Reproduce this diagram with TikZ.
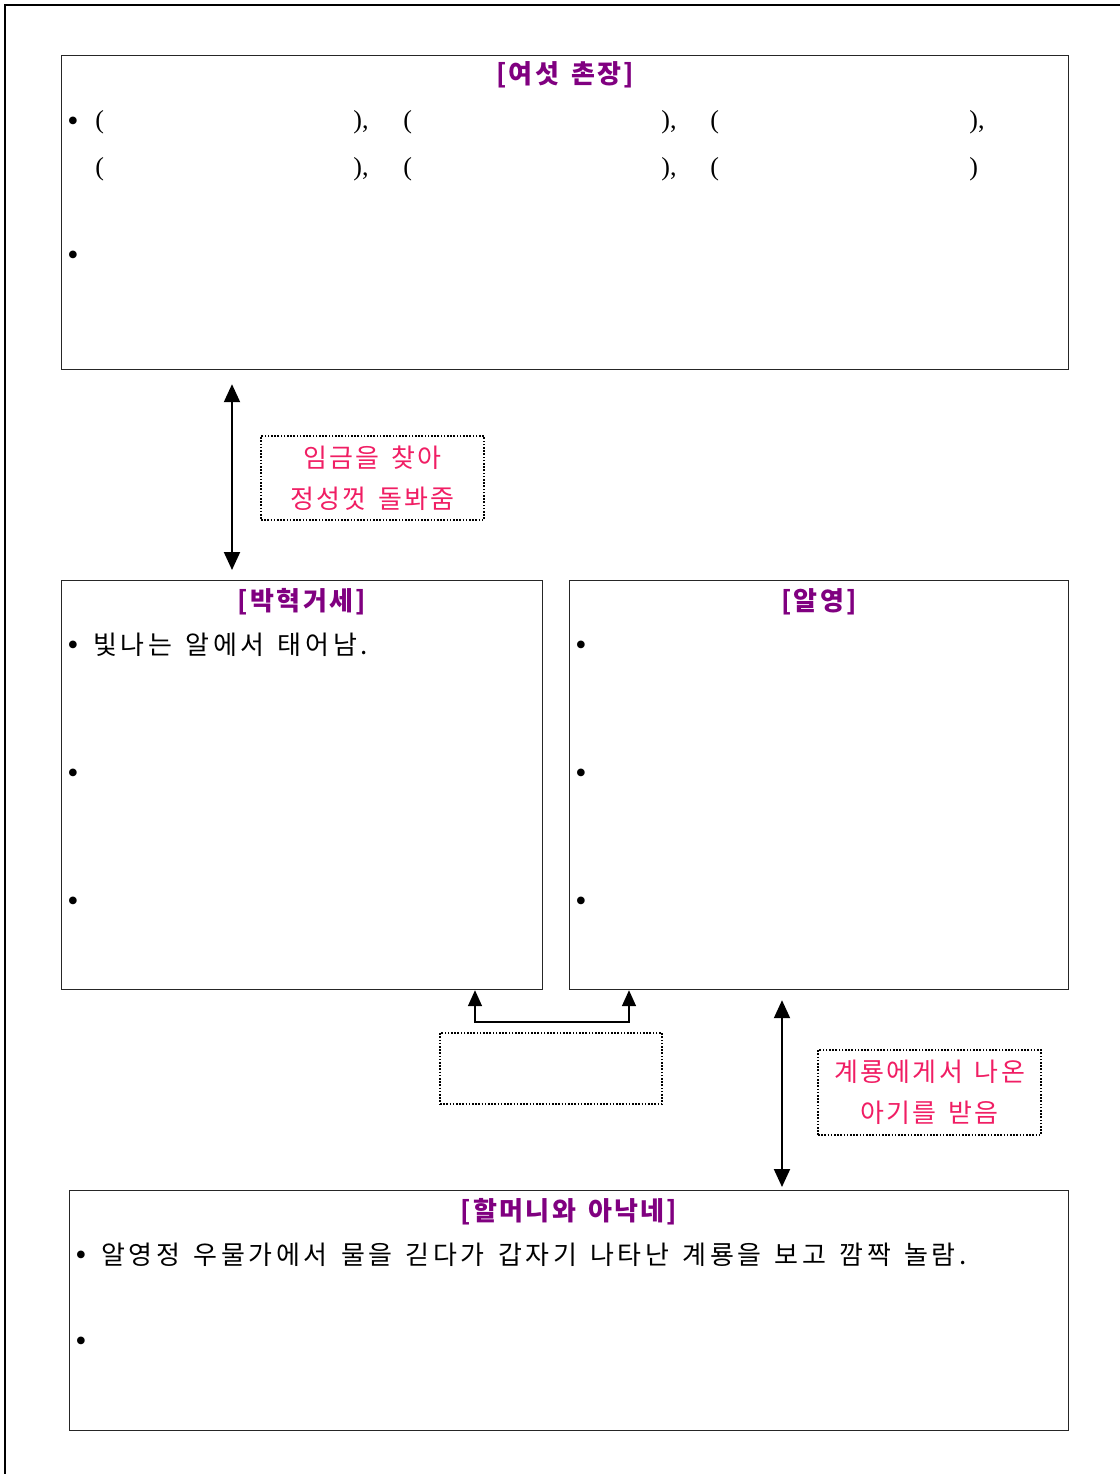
\documentclass[tikz,border=0pt]{standalone}
\usepackage{fontspec}
\setmainfont{Liberation Serif}
\newfontfamily\kr[WordSpace=1.4,LetterSpace=14]{Noto Sans CJK KR}
\newfontfamily\krl[WordSpace=1.45,LetterSpace=9]{Noto Sans CJK KR}
\usetikzlibrary{arrows.meta}
\definecolor{hdpurple}{RGB}{128,0,128}
\definecolor{lblpink}{RGB}{240,30,100}
\tikzset{
 box/.style={draw=black!85, line width=0.6pt, anchor=north west, inner sep=0pt},
 dotbox/.style={draw, line width=0.8pt, dash pattern=on 0.8pt off 0.8pt, inner sep=0pt},
 heading/.style={font=\krl\bfseries\fontsize{13}{15}\selectfont, text=hdpurple, inner sep=0pt},
 body/.style={font=\kr\fontsize{13}{15}\selectfont, inner sep=0pt, anchor=west},
 bul/.style={font=\fontsize{16}{18}\selectfont, inner sep=0pt},
 paren/.style={font=\fontsize{13}{15}\selectfont, inner sep=0pt, anchor=base west},
 lbl/.style={dotbox, font=\krl\fontsize{13}{20.5}\selectfont, text=lblpink, align=center},
 dbl/.style={{Triangle[width=8pt,length=9pt]}-{Triangle[width=8pt,length=9pt]}, line width=1pt},
 brk/.style={{Triangle[width=7pt,length=8pt]}-{Triangle[width=7pt,length=8pt]}, line width=0.8pt},
}
\begin{document}
\begin{tikzpicture}[x=0.5pt,y=-0.5pt]
\useasboundingbox (0,0) rectangle (1120,1474);
% page border
\coordinate (pgTL) at (5,5);
\coordinate (pgTR) at (1120,5);
\coordinate (pgBL) at (5,1474);
\draw[line width=0.6pt] (pgTR) -- (pgTL) -- (pgBL);

% boxes
\node[box, minimum width=503.5pt, minimum height=157pt] (top) at (61,55) {};
\node[box, minimum width=240.5pt, minimum height=204.5pt] (bh) at (61,580) {};
\node[box, minimum width=249.5pt, minimum height=204.5pt] (ay) at (569,580) {};
\node[box, minimum width=499.5pt, minimum height=120pt] (gm) at (69,1190) {};

% top box content
\node[heading] (h1) at (565,75) {[여섯 촌장]};
\node[bul] (t1) at (73,124) {•};
\foreach \x [count=\i] in {95,403,710} {
  \node[paren] (pa\i) at (\x,128) {(};
  \node[paren] (pc\i) at (\x,175) {(};
}
\foreach \x [count=\i] in {353,661,969} {
  \node[paren] (qa\i) at (\x,128) {),};
}
\node[paren] (qb1) at (353,175) {),};
\node[paren] (qb2) at (661,175) {),};
\node[paren] (qb3) at (969,175) {)};
\node[bul] (t2) at (73,258) {•};

% 박혁거세
\node[heading] (h2) at (302,602) {[박혁거세]};
\node[bul] (b1) at (73,648) {•};
\node[body] (b1t) at (93,645) {빛나는 알에서 태어남.};
\node[bul] (b2) at (73,776) {•};
\node[bul] (b3) at (73,904) {•};

% 알영
\node[heading] (h3) at (819,602) {[알영]};
\node[bul] (a1) at (581,648) {•};
\node[bul] (a2) at (581,776) {•};
\node[bul] (a3) at (581,904) {•};

% 할머니와 아낙네
\node[heading] (h4) at (569,1212) {[할머니와 아낙네]};
\node[bul] (g1) at (81,1258) {•};
\node[body] (g1t) at (101,1255) {알영정 우물가에서 물을 긷다가 갑자기 나타난 계룡을 보고 깜짝 놀람.};
\node[bul] (g2) at (81,1344) {•};

% labels
\node[lbl, minimum width=111.5pt, minimum height=42pt] (l1) at (372.5,478) {임금을 찾아\\정성껏 돌봐줌};
\node[lbl, minimum width=111.5pt, minimum height=42.5pt] (l2) at (929.5,1092.5) {계룡에게서 나온\\아기를 받음};
\node[dotbox, minimum width=111pt, minimum height=35.5pt] (eb) at (551,1068.5) {};

% arrows
\coordinate (xa) at (232,0);
\draw[dbl, shorten <=7pt, shorten >=5pt] (top.south -| xa) -- (bh.north -| xa);
\coordinate (xb) at (782,0);
\draw[dbl, shorten <=5pt, shorten >=1.5pt] (ay.south -| xb) -- (gm.north -| xb);
\coordinate (j1) at (475,1022);
\coordinate (j2) at (629,1022);
\draw[brk] (bh.south -| j1) -- (j1) -- (j2) -- (ay.south -| j2);
\end{tikzpicture}
\end{document}
